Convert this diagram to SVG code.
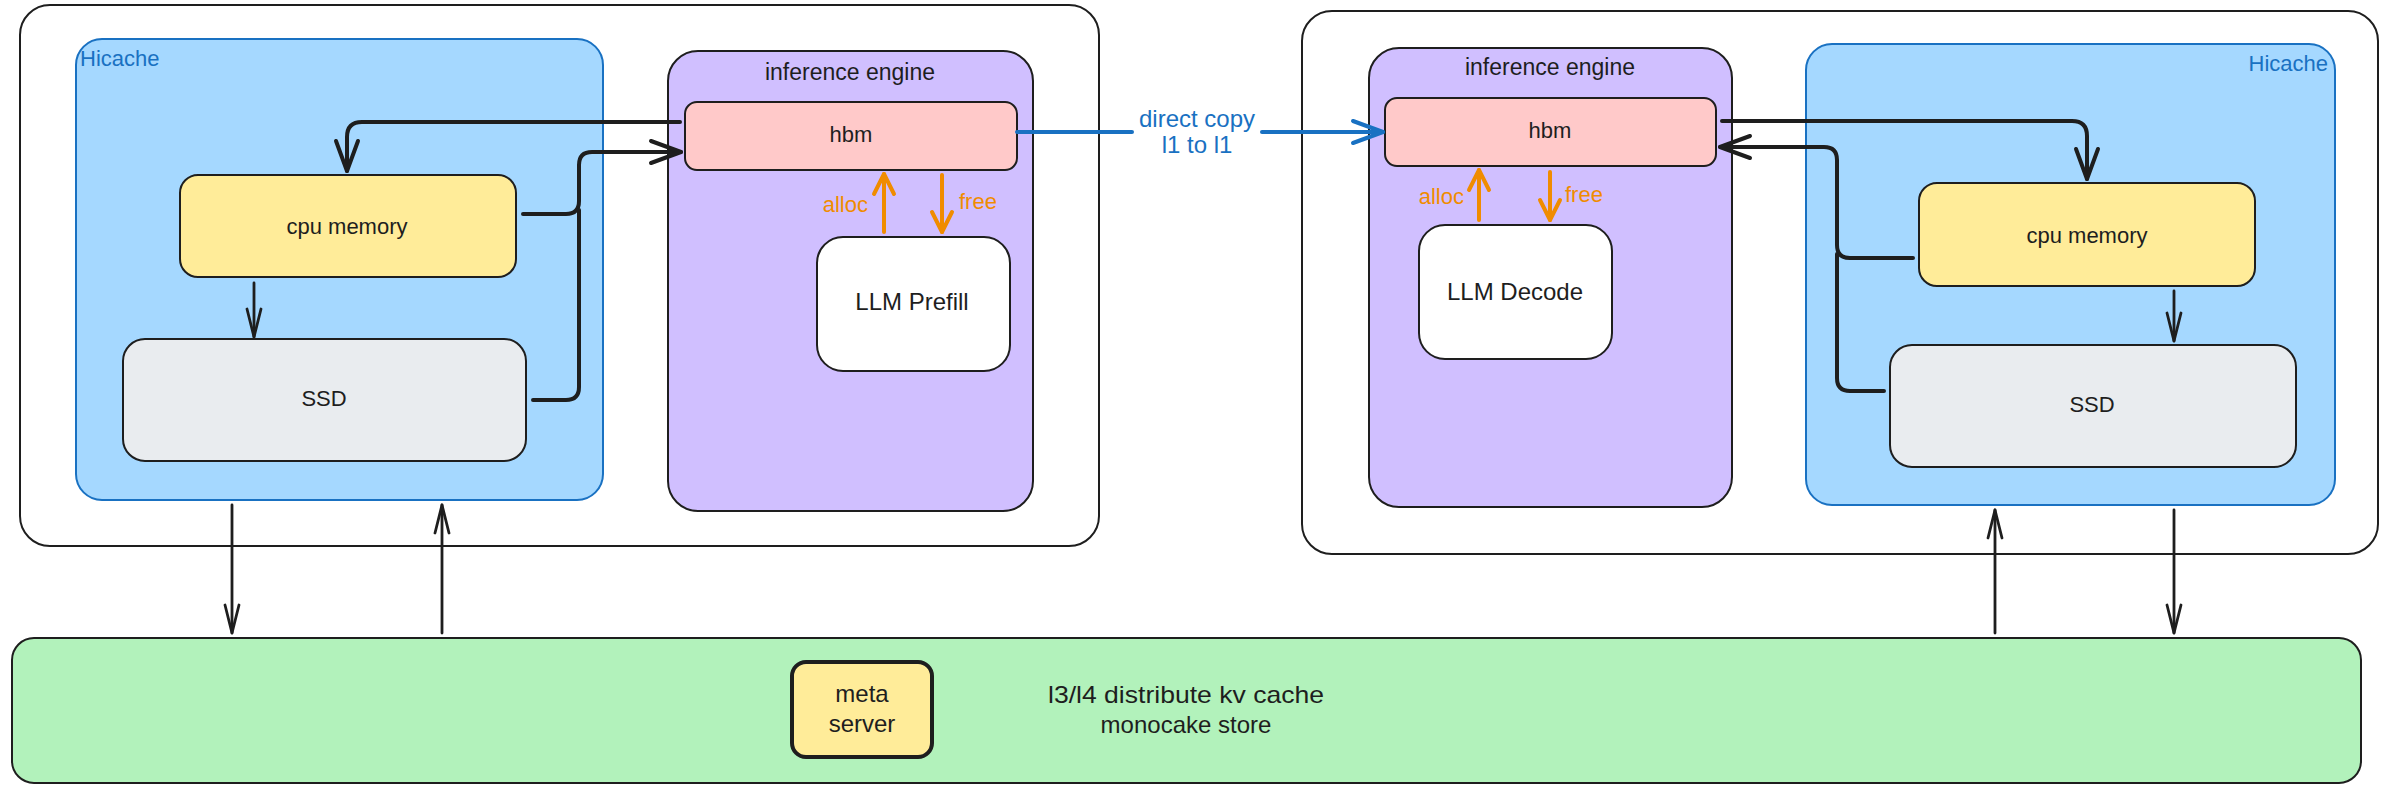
<svg xmlns="http://www.w3.org/2000/svg" width="2384" height="793" viewBox="0 0 2384 793">
<style>
  text { font-family: "Liberation Sans", Arial, sans-serif; fill: #1e1e1e; }
  .box { stroke: #1e1e1e; stroke-width: 2; }
  .cont { fill: #ffffff; }
  .hic { fill: #a5d8ff; stroke: #1971c2; stroke-width: 2; }
  .eng { fill: #d0bfff; }
  .hbm { fill: #ffc9c9; }
  .cpu { fill: #ffec99; }
  .ssd { fill: #e9ecef; }
  .llm { fill: #ffffff; }
  .store { fill: #b2f2bb; }
  .meta { fill: #ffec99; stroke: #1e1e1e; stroke-width: 4; }
  .t22 { font-size: 22px; }
  .t23 { font-size: 23px; }
  .t24 { font-size: 24px; }
  .blue { fill: #1971c2; }
  .orange { fill: #f08c00; }
  .thick { fill: none; stroke: #1e1e1e; stroke-width: 4; stroke-linecap: round; stroke-linejoin: round; }
  .thin { fill: none; stroke: #1e1e1e; stroke-width: 2.8; stroke-linecap: round; }
  .ora { fill: none; stroke: #f08c00; stroke-width: 4; stroke-linecap: round; }
  .bl { fill: none; stroke: #1971c2; stroke-width: 4; stroke-linecap: round; }
</style>
<defs>
  <marker id="ahThick" markerUnits="userSpaceOnUse" markerWidth="36" markerHeight="30" viewBox="0 0 36 30" refX="33" refY="15" orient="auto">
    <path d="M3,4 L33,15 L3,26" fill="none" stroke="#1e1e1e" stroke-width="4" stroke-linecap="round" stroke-linejoin="round"/>
  </marker>
  <marker id="ahThin" markerUnits="userSpaceOnUse" markerWidth="34" markerHeight="20" viewBox="0 0 34 20" refX="31" refY="10" orient="auto">
    <path d="M3,3 L31,10 L3,17" fill="none" stroke="#1e1e1e" stroke-width="2.8" stroke-linecap="round" stroke-linejoin="round"/>
  </marker>
  <marker id="ahOra" markerUnits="userSpaceOnUse" markerWidth="26" markerHeight="28" viewBox="0 0 26 28" refX="23" refY="14" orient="auto">
    <path d="M3,4 L23,14 L3,24" fill="none" stroke="#f08c00" stroke-width="4" stroke-linecap="round" stroke-linejoin="round"/>
  </marker>
  <marker id="ahBlue" markerUnits="userSpaceOnUse" markerWidth="36" markerHeight="30" viewBox="0 0 36 30" refX="33" refY="15" orient="auto">
    <path d="M3,4 L33,15 L3,26" fill="none" stroke="#1971c2" stroke-width="4" stroke-linecap="round" stroke-linejoin="round"/>
  </marker>
</defs>

<rect width="2384" height="793" fill="#ffffff"/>

<!-- Left server -->
<g id="left-server">
  <rect class="box cont" x="20" y="5" width="1079" height="541" rx="30"/>
</g>
<g id="left-hicache">
  <rect class="hic" x="76" y="39" width="527" height="461" rx="26"/>
  <text class="t22 blue" x="80" y="66">Hicache</text>
</g>
<g id="left-engine">
  <rect class="box eng" x="668" y="51" width="365" height="460" rx="30"/>
  <text class="t23" x="850" y="80" text-anchor="middle">inference engine</text>
</g>
<g id="left-hbm">
  <rect class="box hbm" x="685" y="102" width="332" height="68" rx="12"/>
  <text class="t22" x="851" y="142" text-anchor="middle">hbm</text>
</g>
<g id="left-cpu">
  <rect class="box cpu" x="180" y="175" width="336" height="102" rx="18"/>
  <text class="t22" x="347" y="234" text-anchor="middle">cpu memory</text>
</g>
<g id="left-ssd">
  <rect class="box ssd" x="123" y="339" width="403" height="122" rx="22"/>
  <text class="t22" x="324" y="406" text-anchor="middle">SSD</text>
</g>
<g id="llm-prefill">
  <rect class="box llm" x="817" y="237" width="193" height="134" rx="26"/>
  <text class="t24" x="912" y="310" text-anchor="middle">LLM Prefill</text>
</g>

<!-- Right server -->
<g id="right-server">
  <rect class="box cont" x="1302" y="11" width="1076" height="543" rx="30"/>
</g>
<g id="right-engine">
  <rect class="box eng" x="1369" y="48" width="363" height="459" rx="30"/>
  <text class="t23" x="1550" y="75" text-anchor="middle">inference engine</text>
</g>
<g id="right-hicache">
  <rect class="hic" x="1806" y="44" width="529" height="461" rx="26"/>
  <text class="t22 blue" x="2328" y="71" text-anchor="end">Hicache</text>
</g>
<g id="right-hbm">
  <rect class="box hbm" x="1385" y="98" width="331" height="68" rx="12"/>
  <text class="t22" x="1550" y="138" text-anchor="middle">hbm</text>
</g>
<g id="llm-decode">
  <rect class="box llm" x="1419" y="225" width="193" height="134" rx="26"/>
  <text class="t24" x="1515" y="300" text-anchor="middle">LLM Decode</text>
</g>
<g id="right-cpu">
  <rect class="box cpu" x="1919" y="183" width="336" height="103" rx="18"/>
  <text class="t22" x="2087" y="243" text-anchor="middle">cpu memory</text>
</g>
<g id="right-ssd">
  <rect class="box ssd" x="1890" y="345" width="406" height="122" rx="22"/>
  <text class="t22" x="2092" y="412" text-anchor="middle">SSD</text>
</g>

<!-- Store -->
<g id="kv-store">
  <rect class="box store" x="12" y="638" width="2349" height="145" rx="22"/>
  <text class="t24" x="1186" y="703" text-anchor="middle" textLength="276" lengthAdjust="spacingAndGlyphs">l3/l4 distribute kv cache</text>
  <text class="t24" x="1186" y="733" text-anchor="middle">monocake store</text>
</g>
<g id="meta-server">
  <rect class="meta" x="792" y="662" width="140" height="95" rx="14"/>
  <text class="t24" x="862" y="702" text-anchor="middle">meta</text>
  <text class="t24" x="862" y="732" text-anchor="middle">server</text>
</g>

<!-- Connectors -->
<g id="connectors">
  <!-- left -->
  <path class="thick" d="M680,122 H362 Q347,122 347,137 V171" marker-end="url(#ahThick)"/>
  <path class="thick" d="M523,214 H566 Q579,214 579,201 V165 Q579,152 592,152 H681" marker-end="url(#ahThick)"/>
  <path class="thick" d="M533,400 H566 Q579,400 579,387 V210"/>
  <path class="thin" d="M254,283 V337" marker-end="url(#ahThin)"/>
  <path class="ora" d="M884,232 V174" marker-end="url(#ahOra)"/>
  <path class="ora" d="M942,175 V232" marker-end="url(#ahOra)"/>
  <path class="thin" d="M232,505 V633" marker-end="url(#ahThin)"/>
  <path class="thin" d="M442,633 V505" marker-end="url(#ahThin)"/>
  <!-- direct copy -->
  <path class="bl" d="M1017,132 H1132"/>
  <path class="bl" d="M1262,132 H1383" marker-end="url(#ahBlue)"/>
  <!-- right -->
  <path class="thick" d="M1722,121 H2072 Q2087,121 2087,136 V179" marker-end="url(#ahThick)"/>
  <path class="thick" d="M1913,258 H1850 Q1837,258 1837,245 V160 Q1837,147 1824,147 H1720" marker-end="url(#ahThick)"/>
  <path class="thick" d="M1884,391 H1850 Q1837,391 1837,378 V254"/>
  <path class="thin" d="M2174,291 V341" marker-end="url(#ahThin)"/>
  <path class="ora" d="M1479,220 V170" marker-end="url(#ahOra)"/>
  <path class="ora" d="M1550,172 V220" marker-end="url(#ahOra)"/>
  <path class="thin" d="M1995,633 V510" marker-end="url(#ahThin)"/>
  <path class="thin" d="M2174,510 V633" marker-end="url(#ahThin)"/>
</g>

<!-- Connector labels -->
<g id="labels">
  <text class="t22 orange" x="868" y="212" text-anchor="end">alloc</text>
  <text class="t22 orange" x="959" y="209">free</text>
  <text class="t22 orange" x="1464" y="204" text-anchor="end">alloc</text>
  <text class="t22 orange" x="1565" y="202">free</text>
  <text class="t24 blue" x="1197" y="127" text-anchor="middle">direct copy</text>
  <text class="t24 blue" x="1197" y="153" text-anchor="middle">l1 to l1</text>
</g>
</svg>
